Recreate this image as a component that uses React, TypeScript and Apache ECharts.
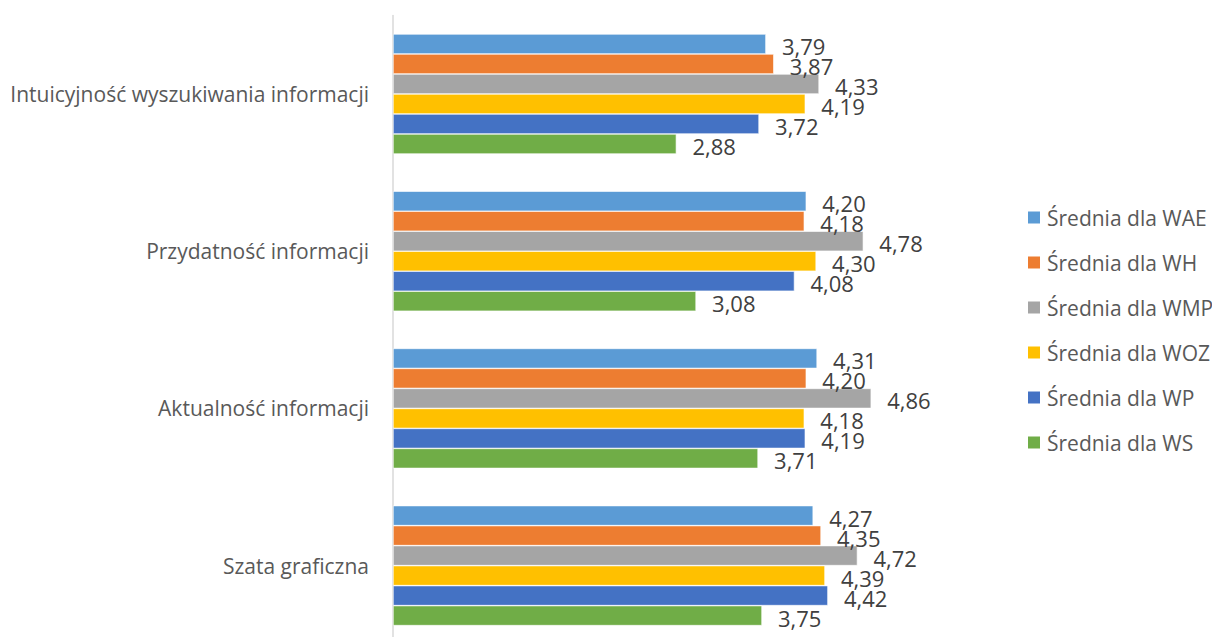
import React, { useEffect, useRef } from "react";
import * as echarts from "echarts";

const categories = [
  "Intuicyjność wyszukiwania informacji",
  "Przydatność informacji",
  "Aktualność informacji",
  "Szata graficzna",
];

const seriesNames = [
  "Średnia dla WAE",
  "Średnia dla WH",
  "Średnia dla WMP",
  "Średnia dla WOZ",
  "Średnia dla WP",
  "Średnia dla WS",
];

const wae = [3.79, 4.2, 4.31, 4.27];
const wh = [3.87, 4.18, 4.2, 4.35];
const wmp = [4.33, 4.78, 4.86, 4.72];
const woz = [4.19, 4.3, 4.18, 4.39];
const wp = [3.72, 4.08, 4.19, 4.42];
const ws = [2.88, 3.08, 3.71, 3.75];

const seriesValues = [wae, wh, wmp, woz, wp, ws];
const colors = ["#5B9BD5", "#ED7D31", "#A5A5A5", "#FFC000", "#4472C4", "#70AD47"];

const FONT = "'Open Sans', 'Noto Sans', sans-serif";

export default function App() {
  const ref = useRef<HTMLDivElement>(null);

  useEffect(() => {
    if (!ref.current) return;
    const chart = echarts.init(ref.current, undefined, { renderer: "svg" });
    chart.setOption({
      animation: false,
      backgroundColor: "#ffffff",
      textStyle: { fontFamily: FONT },
      grid: { left: 393, top: 15.4, width: 492, height: 628.8, containLabel: false },
      xAxis: {
        type: "value",
        min: 0,
        max: 5,
        show: false,
      },
      yAxis: {
        type: "category",
        data: categories,
        inverse: true,
        axisLine: { show: true, lineStyle: { color: "#D9D9D9", width: 1.5 } },
        axisTick: { show: false },
        splitLine: { show: false },
        axisLabel: {
          margin: 24,
          fontSize: 21,
          color: "#595959",
          fontFamily: FONT,
        },
      },
      legend: {
        orient: "vertical",
        left: 1026,
        top: 207,
        padding: 0,
        itemWidth: 14,
        itemHeight: 14,
        itemGap: 24,
        icon: "rect",
        textStyle: { fontSize: 21, color: "#595959", fontFamily: FONT, padding: [0, 0, 0, 1] },
        data: seriesNames,
      },
      series: seriesNames.map((name, i) => ({
        name,
        type: "bar",
        data: seriesValues[i],
        barWidth: 20,
        barGap: "0%",
        itemStyle: { color: colors[i], borderColor: "#ffffff", borderWidth: 0.6 },
        label: {
          show: true,
          position: "right",
          distance: 16,
          offset: [0, 2],
          fontSize: 22,
          color: "#404040",
          fontFamily: FONT,
          formatter: (p: any) => Number(p.value).toFixed(2).replace(".", ","),
        },
      })),
    });
    return () => chart.dispose();
  }, []);

  return (
    <div
      style={{
        position: "absolute",
        left: 0,
        top: 0,
        width: 1212,
        height: 637,
        overflow: "hidden",
        background: "#ffffff",
      }}
    >
      <div ref={ref} style={{ width: 1212, height: 660 }} />
    </div>
  );
}
